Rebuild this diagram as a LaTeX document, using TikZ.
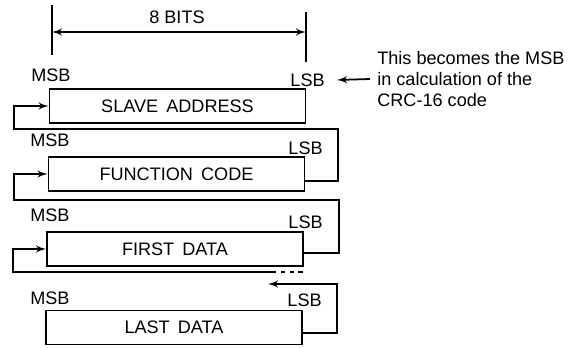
\documentclass[tikz,border=0pt]{standalone}
\usepackage{fontspec}
\setmainfont{Liberation Sans}
\usepackage{tikz}
\usetikzlibrary{shapes}
\usetikzlibrary{arrows}

\begin{document}
\begin{tikzpicture}[x=0.02cm,y=-0.02cm]

  \tikzset{bytebox/.style = {shape=rectangle,draw,line width=1pt,minimum width=5.12cm,minimum height=0.68cm,inner sep=0pt}}
  \tikzset{bit/.style = {inner sep=0pt}}
  \tikzset{edge/.style = {-,> = latex',line width=1pt}}
  \tikzset{every node/.style = {font=\fontsize{10.3}{12.2}\selectfont}}
  \useasboundingbox (0,0) rectangle (569,348);
  % bytes
  \node[bytebox] (slave) at (177.5,106) {SLAVE\hspace{0.45em}ADDRESS};
  \node[bytebox] (func)  at (176.5,174) {FUNCTION\hspace{0.45em}CODE};
  \node[bytebox] (first) at (175,249)   {FIRST\hspace{0.45em}DATA};
  \node[bytebox] (last)  at (174,327.5) {LAST\hspace{0.45em}DATA};
  % bit labels
  \node[bit,anchor=west] (msba) at (31,75)  {MSB};
  \node[bit,anchor=east] (lsba) at (325,80) {LSB};
  \node[bit,anchor=west] (msbb) at (30,140) {MSB};
  \node[bit,anchor=east] (lsbb) at (323,148) {LSB};
  \node[bit,anchor=west] (msbc) at (30,215) {MSB};
  \node[bit,anchor=east] (lsbc) at (323,222) {LSB};
  \node[bit,anchor=west] (msbd) at (30,298) {MSB};
  \node[bit,anchor=east] (lsbd) at (322,300) {LSB};
  \node[bit] (bits) at (177,17) {8 BITS};
  \node[bit,anchor=west,align=left] (note) at (377,79)
    {This becomes the MSB\\in calculation of the\\CRC-16 code};
  % corners
  \coordinate (ta) at (52,5);
  \coordinate (tb) at (306,12);
  \coordinate (ra) at (338,129);
  \coordinate (la) at (14,129);
  \coordinate (rb) at (339,200);
  \coordinate (lb) at (14,200);
  \coordinate (lc) at (13,272);
  \coordinate (dc) at (272,272);
  \coordinate (rd) at (337,284);
  \coordinate (ed) at (268,284);
  % edges
  \draw[edge] (ta) -- (52,55);
  \draw[edge] (tb) -- (306,62);
  \draw[edge,<->] (ta |- 0,32) -- (tb |- 0,32);
  \draw[edge,->] (note.west) ++(-7,0) -- ([xshift=0.24cm]lsba.east);
  \draw[edge,->] (func.east |- 0,181) -| (ra) -- (la) |- (slave.west);
  \draw[edge,->] (first.east |- 0,253) -| (rb) -- (lb) |- (func.west);
  \draw[edge,->] (dc) -- (lc) |- (first.west);
  \draw[edge,dash pattern=on 2.5pt off 2.5pt] (dc) -- (first.east |- dc);
  \draw[edge,->] (last.east |- 0,333) -| (rd) -- (ed);
\end{tikzpicture}
\end{document}
